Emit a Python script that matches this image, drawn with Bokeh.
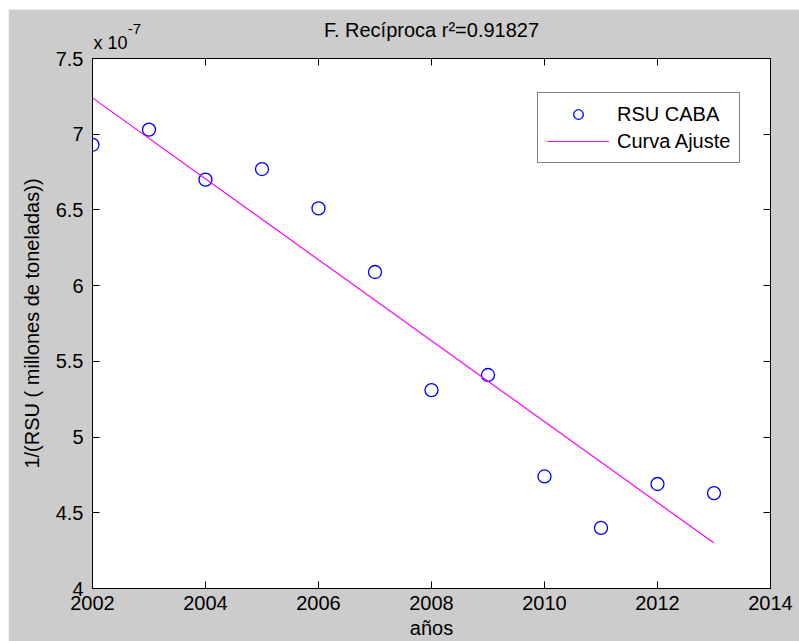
from bokeh.plotting import figure
from bokeh.models import (LinearAxis, FixedTicker, Legend, LegendItem, Range1d, Spacer,
                          CustomLabelingPolicy)
from bokeh.layouts import column, row
from bokeh.embed import file_html
from bokeh.resources import INLINE

# ---- data ----
years = [2002, 2003, 2004, 2005, 2006, 2007, 2008, 2009, 2010, 2011, 2012, 2013]
inv_rsu_e7 = [6.93, 7.03, 6.70, 6.77, 6.51, 6.09, 5.31, 5.41, 4.74, 4.40, 4.69, 4.63]
fit_years = [2002, 2013]
fit_vals_e7 = [7.24, 4.30]
x_ticks = [2002, 2004, 2006, 2008, 2010, 2012, 2014]
y_ticks = [4, 4.5, 5, 5.5, 6, 6.5, 7, 7.5]
y_tick_labels = ["4", "4.5", "5", "5.5", "6", "6.5", "7", "7.5"]
title_text = "F. Recíproca r²=0.91827"
multiplier_base = "x 10"
multiplier_exp = "-7"
x_label = "años"
y_label = "1/(RSU ( millones de toneladas))"
series_names = ["RSU CABA", "Curva Ajuste"]

FONT = "Liberation Sans"
FS = "20px"
BG = "#cccccc"
TXT = "#000000"
X0, X1 = 2002, 2014
Y0, Y1 = 4, 7.5
PX_PER_X = 678 / (X1 - X0)   # frame width / x span

p = figure(width=791, height=632, output_backend="svg", toolbar_location=None,
           x_range=Range1d(X0, X1), y_range=Range1d(Y0, Y1),
           x_axis_location=None, y_axis_location=None,
           min_border_left=84, min_border_right=29, min_border_top=49, min_border_bottom=52)
p.background_fill_color = "white"
p.border_fill_color = BG
p.outline_line_color = "black"
p.outline_line_width = 1
p.grid.visible = False

def style_axis(ax, labels=True):
    ax.axis_line_color = "black"
    ax.major_tick_in = 7
    ax.major_tick_out = 0
    ax.minor_tick_line_color = None
    ax.major_tick_line_color = "black"
    if labels:
        ax.major_label_text_font = FONT
        ax.major_label_text_font_size = FS
        ax.major_label_text_color = TXT
        ax.axis_label_text_font = FONT
        ax.axis_label_text_font_size = FS
        ax.axis_label_text_font_style = "normal"
        ax.axis_label_text_color = TXT
    else:
        ax.major_label_text_font_size = "0px"
        ax.major_label_standoff = 0
        ax.major_label_policy = CustomLabelingPolicy(code="return []")

xb = LinearAxis(ticker=FixedTicker(ticks=x_ticks), axis_label=x_label)
style_axis(xb)
xb.major_label_standoff = 7
xb.axis_label_standoff = 4
p.add_layout(xb, "below")

yl = LinearAxis(ticker=FixedTicker(ticks=y_ticks), axis_label=y_label)
style_axis(yl)
yl.major_label_overrides = {t: s for t, s in zip(y_ticks, y_tick_labels)}
yl.major_label_standoff = 9
yl.axis_label_standoff = 10
p.add_layout(yl, "left")

xt = LinearAxis(ticker=FixedTicker(ticks=x_ticks))
style_axis(xt, labels=False)
p.add_layout(xt, "above")
yr = LinearAxis(ticker=FixedTicker(ticks=y_ticks))
style_axis(yr, labels=False)
p.add_layout(yr, "right")

def text_row(pos, text, size, standoff):
    ax = LinearAxis(ticker=FixedTicker(ticks=[pos]))
    ax.major_label_overrides = {pos: text}
    ax.axis_line_color = None
    ax.major_tick_line_color = None
    ax.minor_tick_line_color = None
    ax.major_tick_in = 0
    ax.major_tick_out = 0
    ax.major_label_text_font = FONT
    ax.major_label_text_font_size = size
    ax.major_label_text_color = TXT
    ax.major_label_standoff = standoff
    p.add_layout(ax, "above")

# rows stacked upward from the top of the axes box (label centres given in pixels)
text_row(X0 + 18 / PX_PER_X, multiplier_base, "18px", 6)
text_row(X0 + 42 / PX_PER_X, multiplier_exp, "15px", -4)
text_row((X0 + X1) / 2, title_text, FS, -20)

pts = p.scatter(years, inv_rsu_e7, marker="circle", size=13, fill_color=None,
                line_color="#0000ff", line_width=1.3)
ln = p.line(fit_years, fit_vals_e7, line_color="#ff00ff", line_width=1.2)

legend = Legend(items=[LegendItem(label=series_names[0], renderers=[pts]),
                       LegendItem(label=series_names[1], renderers=[ln])],
                location=(445, 425))
legend.label_text_font = FONT
legend.label_text_font_size = FS
legend.label_text_color = TXT
legend.border_line_color = "black"
legend.border_line_width = 1
legend.background_fill_color = "white"
legend.background_fill_alpha = 1
legend.glyph_width = 62
legend.glyph_height = 24
legend.label_height = 24
legend.label_standoff = 8
legend.spacing = 3
legend.padding = 9
legend.margin = 0
p.add_layout(legend, "center")

layout = column(Spacer(height=9, width=799), row(Spacer(width=8, height=632), p))
open("out.html", "w").write(file_html(layout, INLINE))
